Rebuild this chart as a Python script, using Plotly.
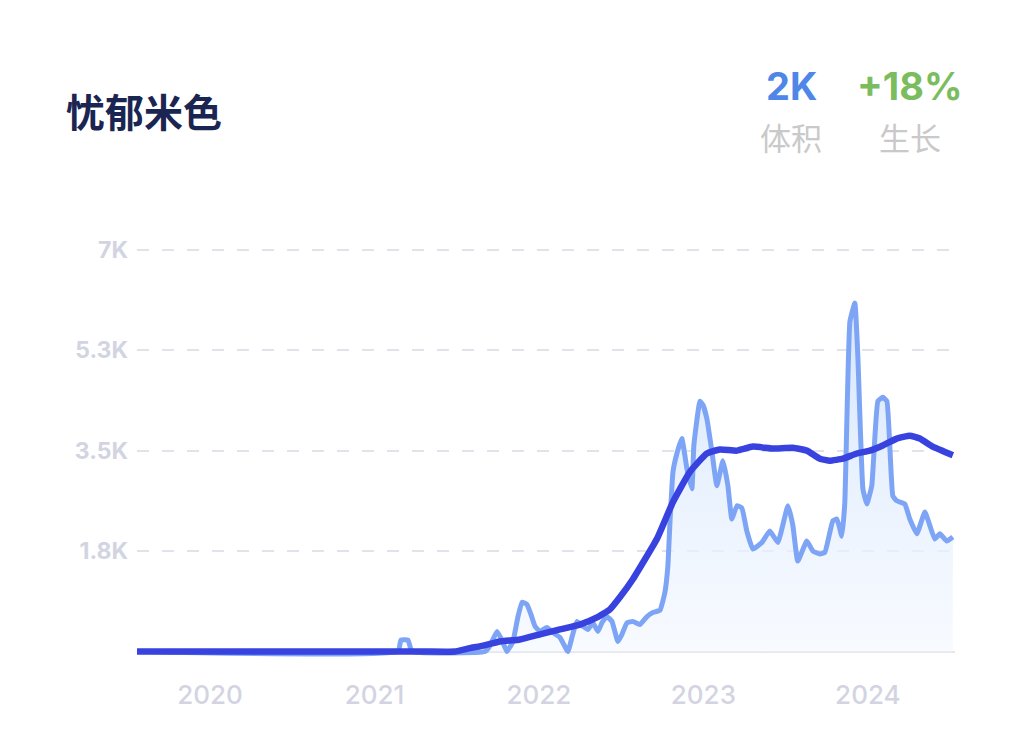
import plotly.graph_objects as go

# ---- data (x in decimal years) ----
raw_x = [2019.556, 2021.143, 2021.161, 2021.204, 2021.228, 2021.672, 2021.702, 2021.745,
         2021.775, 2021.805, 2021.842, 2021.872, 2021.897, 2021.927, 2021.951, 2021.976,
         2022.006, 2022.049, 2022.085, 2022.128, 2022.176, 2022.201, 2022.231, 2022.267,
         2022.298, 2022.328, 2022.359, 2022.383, 2022.413, 2022.444, 2022.480, 2022.505,
         2022.535, 2022.571, 2022.614, 2022.657, 2022.693, 2022.736, 2022.766, 2022.784,
         2022.796, 2022.815, 2022.839, 2022.869, 2022.900, 2022.930, 2022.942, 2022.979,
         2022.997, 2023.021, 2023.052, 2023.082, 2023.119, 2023.149, 2023.173, 2023.204,
         2023.234, 2023.264, 2023.301, 2023.356, 2023.404, 2023.453, 2023.514, 2023.544,
         2023.574, 2023.629, 2023.666, 2023.708, 2023.739, 2023.787, 2023.812, 2023.842,
         2023.860, 2023.891, 2023.921, 2023.939, 2023.970, 2023.994, 2024.024, 2024.061,
         2024.091, 2024.116, 2024.152, 2024.176, 2024.225, 2024.255, 2024.298, 2024.347,
         2024.407, 2024.438, 2024.480, 2024.517]
raw_y = [0, 0, 200, 200, 0, 0, 100, 350,
         200, 0, 175, 600, 860, 820, 650, 440,
         350, 420, 330, 245, 0, 250, 525, 440,
         385, 500, 350, 500, 610, 525, 175, 300,
         500, 525, 470, 610, 680, 720, 1030, 1490,
         2200, 3130, 3450, 3710, 3185, 2835, 3590, 4360,
         4300, 4060, 3480, 2890, 3325, 2890, 2310, 2540,
         2500, 2100, 1785, 1900, 2100, 1900, 2540, 2200,
         1575, 1925, 1750, 1700, 1730, 2275, 2310, 2010,
         2600, 5750, 6070, 5160, 2835, 2570, 2890, 4360,
         4430, 4360, 2710, 2625, 2570, 2310, 2050, 2430,
         1960, 2050, 1925, 1995]

trend_x = [2019.556, 2020.0, 2020.5, 2021.0, 2021.3, 2021.489, 2021.581, 2021.641,
           2021.763, 2021.884, 2022.006, 2022.128, 2022.249, 2022.353, 2022.432, 2022.492,
           2022.571, 2022.717, 2022.815, 2022.918, 2023.021, 2023.100, 2023.204,
           2023.301, 2023.422, 2023.544, 2023.629, 2023.708, 2023.769, 2023.848, 2023.933,
           2024.012, 2024.091, 2024.176, 2024.255, 2024.316, 2024.395, 2024.517]
trend_y = [0, 0, 0, 0, 0, 0, 60, 90,
           175, 210, 300, 385, 470, 595, 735, 945,
           1260, 1960, 2605, 3130, 3450, 3520, 3500,
           3570, 3535, 3550, 3500, 3360, 3325, 3360, 3450,
           3500, 3590, 3710, 3760, 3710, 3570, 3420]

year_ticks = [2020, 2021, 2022, 2023, 2024]
year_labels = ["2020", "2021", "2022", "2023", "2024"]
y_ticks = [1750, 3500, 5250, 7000]
y_labels = ["1.8K", "3.5K", "5.3K", "7K"]

title_text = "忧郁米色"
volume_value, volume_label = "2K", "体积"
growth_value, growth_label = "+18%", "生长"

# ---- figure ----
fig = go.Figure()
fig.add_trace(go.Scatter(
    x=raw_x, y=raw_y, mode="lines",
    line=dict(color="#7ea5f5", width=5, shape="spline", smoothing=0.35),
    fill="tozeroy",
    fillgradient=dict(type="vertical", start=0, stop=6100,
                      colorscale=[[0, "rgba(242,247,255,0.6)"], [1, "rgba(212,229,252,1)"]]),
    hoverinfo="skip", showlegend=False,
))
fig.add_trace(go.Scatter(
    x=trend_x, y=trend_y, mode="lines",
    line=dict(color="#3843df", width=6.5, shape="spline", smoothing=0.4),
    hoverinfo="skip", showlegend=False,
))

grid_col = "#e1e2ea"
tick_col = "#d2d4e2"

fig.update_xaxes(
    range=[2019.556, 2024.53], showgrid=False, zeroline=False, showline=False,
    tickmode="array", tickvals=year_ticks, ticktext=year_labels,
    tickfont=dict(family="Inter", size=26, color=tick_col, weight=500),
    ticks="", ticklabelstandoff=14,
)
fig.update_yaxes(
    range=[-200, 7100], showgrid=True, gridcolor=grid_col, gridwidth=2,
    griddash="12px,13px",
    zeroline=True, zerolinecolor="#e6e7ec", zerolinewidth=2,
    tickmode="array", tickvals=y_ticks, ticktext=y_labels,
    tickfont=dict(family="Inter", size=23, color=tick_col, weight="bold"),
    ticks="", ticklabelstandoff=8, showline=False,
)

L, R, T, B = 137, 60, 244, 80
W, H = 1015, 743
pw, ph = W - L - R, H - T - B


def px_to_paper(px, py):
    return (px - L) / pw, (H - B - py) / ph


anns = []
tx, ty = px_to_paper(64, 110)
anns.append(dict(text=title_text, x=tx, y=ty, xanchor="left", yanchor="middle",
                 font=dict(family="Noto Sans CJK SC", size=39, color="#1b2552", weight="bold")))
for cx, val, lab, col in [(791, volume_value, volume_label, "#4f86e8"),
                          (910, growth_value, growth_label, "#7bbd5e")]:
    vx, vy = px_to_paper(cx, 86)
    anns.append(dict(text=val, x=vx, y=vy, xanchor="center", yanchor="middle",
                     font=dict(family="Inter", size=38, color=col, weight="bold")))
    lx, ly = px_to_paper(cx, 137)
    anns.append(dict(text=lab, x=lx, y=ly, xanchor="center", yanchor="middle",
                     font=dict(family="Noto Sans CJK SC", size=31, color="#c9c9c9")))
for a in anns:
    a.update(xref="paper", yref="paper", showarrow=False)

fig.update_layout(
    width=W, height=H, margin=dict(l=L, r=R, t=T, b=B),
    paper_bgcolor="white", plot_bgcolor="white",
    annotations=anns, showlegend=False,
)

fig.write_html("out.html")
